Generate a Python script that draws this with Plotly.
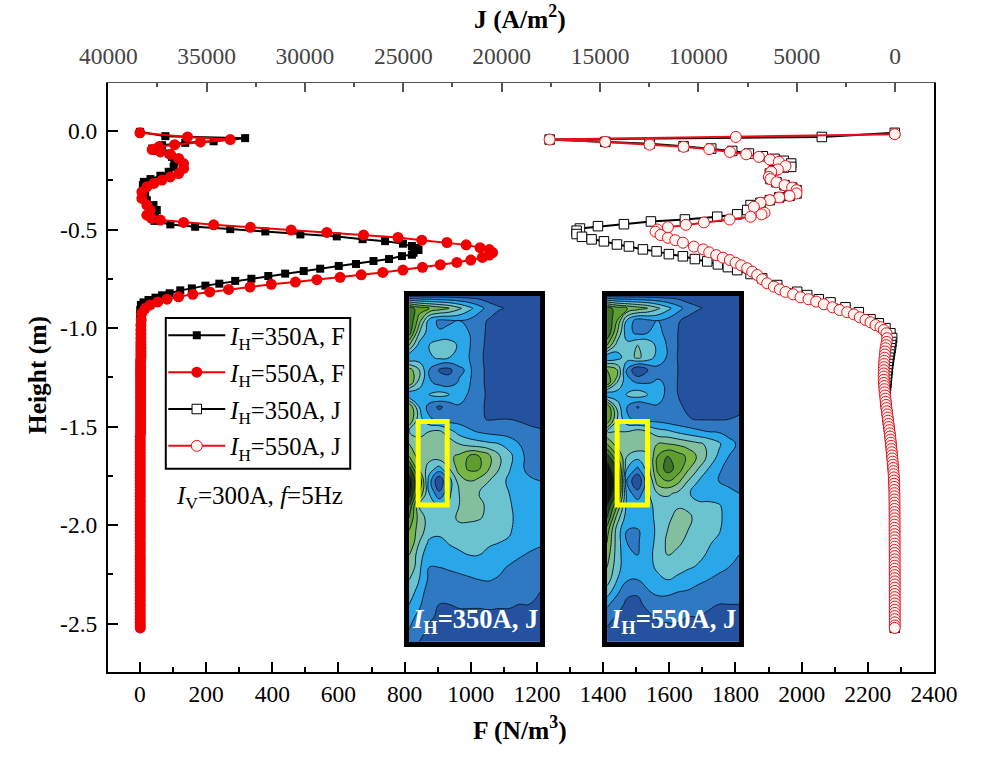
import plotly.graph_objects as go

FONT = "Liberation Serif"

# ---------- profile data ----------
tail_height = [
-1.070,-1.086,-1.102,-1.118,-1.134,-1.150,-1.166,-1.182,-1.198,-1.214,
-1.230,-1.246,-1.262,-1.278,-1.294,-1.310,-1.326,-1.342,-1.358,-1.374,
-1.390,-1.406,-1.422,-1.438,-1.454,-1.470,-1.486,-1.502,-1.518,-1.534,
-1.550,-1.566,-1.582,-1.598,-1.614,-1.630,-1.646,-1.662,-1.678,-1.694,
-1.710,-1.726,-1.742,-1.758,-1.774,-1.790,-1.806,-1.822,-1.838,-1.854,
-1.870,-1.886,-1.902,-1.918,-1.934,-1.950,-1.966,-1.982,-1.998,-2.014,
-2.030,-2.046,-2.062,-2.078,-2.094,-2.110,-2.126,-2.142,-2.158,-2.174,
-2.190,-2.206,-2.222,-2.238,-2.254,-2.270,-2.286,-2.302,-2.318,-2.334,
-2.350,-2.366,-2.382,-2.398,-2.414,-2.430,-2.446,-2.462,-2.478,-2.494,
-2.510,-2.522]

f_tail = [
3,3,3,3,3,3,2,2,2,2,
2,2,2,2,2,2,2,2,2,2,
2,2,2,2,2,2,2,2,2,2,
1,1,1,1,1,1,1,1,1,1,
1,1,1,1,1,1,1,1,1,1,
1,1,1,1,1,1,1,1,1,1,
1,1,1,1,1,1,1,1,1,1,
1,1,1,1,1,1,1,1,1,1,
1,1,1,1,1,1,1,1,1,1,
1,1]

j_tail = [
420,450,480,500,515,530,545,555,562,568,
572,575,572,565,550,538,524,508,490,472,
455,437,415,392,372,352,332,312,290,268,
250,232,215,198,182,167,152,138,124,110,
96,82,70,60,52,46,41,37,34,31,
29,27,26,25,24,23,22,22,21,21,
20,20,19,19,19,18,18,18,17,17,
17,16,16,16,15,15,15,15,14,14,
14,14,14,13,13,13,13,13,13,13,
13,13]
j350_tail_top = [180,200,225,250,275,300,325,345,365,380,395,410,425,440,455,470,485,495,495,490]

f350_h = [-0.003,-0.025,-0.035,-0.051,-0.059,-0.071,-0.088,-0.100,-0.113,-0.130,-0.155,-0.181,-0.206,-0.226,-0.243,-0.257,-0.274,-0.299,-0.324,-0.350,-0.375,-0.400,-0.426,-0.455,-0.473,-0.485,-0.497,-0.509,-0.524,-0.534,-0.548,-0.558,-0.571,-0.583,-0.593,-0.603,-0.617,-0.627,-0.634,-0.649,-0.659,-0.674,-0.684,-0.698,-0.710,-0.723,-0.735,-0.749,-0.760,-0.774,-0.784,-0.798,-0.808,-0.823,-0.833,-0.845,-0.857,-0.869,-0.882,-0.908,-0.930,-0.960,-0.990,-1.020,-1.050]
f350_v = [0,77,318,223,137,67,37,47,87,97,104,102,87,62,32,12,9,11,16,21,41,51,46,44,92,167,273,379,485,595,673,741,795,822,837,842,827,822,792,753,706,653,601,545,495,439,388,337,288,240,198,157,122,90,67,47,26,11,3,1,1,1,1,1,1]

f550_h = [-0.008,-0.029,-0.042,-0.054,-0.068,-0.079,-0.093,-0.105,-0.117,-0.138,-0.164,-0.189,-0.215,-0.232,-0.248,-0.265,-0.282,-0.308,-0.341,-0.375,-0.400,-0.426,-0.443,-0.451,-0.463,-0.475,-0.488,-0.502,-0.514,-0.527,-0.539,-0.553,-0.565,-0.577,-0.591,-0.601,-0.616,-0.629,-0.641,-0.654,-0.666,-0.678,-0.691,-0.705,-0.717,-0.729,-0.742,-0.754,-0.766,-0.777,-0.791,-0.803,-0.816,-0.828,-0.841,-0.853,-0.867,-0.882,-0.899,-0.924,-0.958,-0.985,-1.009,-1.030,-1.050]
f550_v = [0,144,273,183,105,57,37,62,92,117,132,132,117,92,67,42,21,6,6,21,31,21,36,62,132,223,334,457,565,676,780,852,928,986,1028,1056,1066,1056,1035,1000,958,908,854,795,734,669,605,535,470,397,333,268,211,160,117,82,54,31,16,6,4,3,3,3,3]

j350_h = [-0.008,-0.029,-0.042,-0.054,-0.063,-0.076,-0.088,-0.100,-0.113,-0.127,-0.140,-0.150,-0.164,-0.181,-0.184,-0.198,-0.215,-0.243,-0.259,-0.274,-0.286,-0.299,-0.316,-0.328,-0.336,-0.350,-0.363,-0.375,-0.400,-0.422,-0.434,-0.448,-0.458,-0.472,-0.482,-0.494,-0.505,-0.522,-0.536,-0.549,-0.559,-0.575,-0.585,-0.600,-0.610,-0.624,-0.635,-0.649,-0.661,-0.676,-0.690,-0.705,-0.725,-0.747,-0.781,-0.815,-0.832,-0.853,-0.869,-0.894,-0.919,-0.955,-0.975,-1.000,-1.026,-1.050]
j350_v = [11,3721,17561,14732,12479,10751,9345,8278,7431,6720,6127,5653,5280,5280,5653,6161,6364,6330,6025,5618,5229,5009,5009,5364,5889,6364,6838,7346,7516,8024,9040,10683,12411,13783,15105,16020,16189,16189,15918,15427,14800,14139,13529,12818,12123,11497,10785,10175,9548,9007,8498,8024,7346,6754,5990,4975,4466,3874,3281,2519,1841,1247,822,486,232,147]

j550_h = [-0.015,-0.029,-0.042,-0.054,-0.068,-0.079,-0.091,-0.105,-0.117,-0.130,-0.144,-0.155,-0.177,-0.194,-0.206,-0.232,-0.243,-0.259,-0.274,-0.286,-0.299,-0.316,-0.328,-0.336,-0.350,-0.363,-0.384,-0.414,-0.422,-0.434,-0.448,-0.463,-0.475,-0.487,-0.499,-0.510,-0.527,-0.541,-0.553,-0.566,-0.586,-0.600,-0.615,-0.629,-0.642,-0.654,-0.668,-0.681,-0.696,-0.713,-0.730,-0.752,-0.772,-0.789,-0.803,-0.816,-0.828,-0.843,-0.853,-0.865,-0.879,-0.894,-0.908,-0.919,-0.930,-0.945,-0.958,-0.970,-0.984,-0.995,-1.009,-1.026,-1.051]
j550_v = [11,8092,17561,14732,12479,10751,9447,8396,7567,6923,6364,5906,5568,5957,6296,6415,6330,6025,5618,5229,5009,5009,5364,5889,6364,6838,7177,6635,6787,7346,8414,9718,10633,11547,12090,12174,11920,11547,11175,10785,10226,9752,9447,9091,8752,8396,8108,7821,7516,7262,7007,6754,6500,6161,5856,5568,5179,4805,4399,4009,3620,3179,2823,2434,2095,1790,1502,1247,993,740,570,435,400]

series_names = ["<i>I</i><sub>H</sub>=350A, F", "<i>I</i><sub>H</sub>=550A, F",
                "<i>I</i><sub>H</sub>=350A, J", "<i>I</i><sub>H</sub>=550A, J"]

# ---------- inset contour fields ----------
inset1_x = [42,72,102,132,162,192,222,252,282,312,342,372,402,435]
inset2_x = [37,67,97,128,158,188,218,249,279,310,340,371,401,432]
inset_y = [33,70,107,144,181,218,255,292,329,366,403,440,477,514,551,588,625,662,699,736,773,810,847,884,921,958,995,1032,1070]

inset1_z = [
[1.6,1.5,1.5,1.5,1.5,1.5,1.5,1.5,1.4,1.4,1.4,1.4,1.4,1.4],
[8.5,7.5,7,6.5,6,5.2,4.3,3.4,2.5,2.1,1.9,1.5,1.3,1.3],
[9,6.5,3.6,2.8,2.9,3.0,2.8,2.3,1.9,1.5,1.4,1.3,1.3,1.3],
[8.5,5,3.4,3.1,3.2,3.3,3.0,2.3,1.8,1.4,1.3,1.3,1.3,1.3],
[6,3.6,4.0,4.6,4.6,3.8,3.1,2.2,1.8,1.4,1.3,1.3,1.3,1.3],
[3.0,3.4,3.8,4.2,4.0,3.5,3.0,2.2,1.7,1.4,1.3,1.3,1.3,1.3],
[6.5,5,3,1.9,1.7,2.8,3.2,2.3,1.7,1.4,1.3,1.3,1.3,1.3],
[7,4.5,3.2,2.6,2.5,3.1,3.1,2.2,1.8,1.4,1.3,1.3,1.3,1.3],
[3,3.5,4.0,4.4,4,3.4,2.9,2.3,1.8,1.5,1.3,1.3,1.3,1.3],
[7,4,2.6,1.8,2.4,2.9,2.5,2.1,1.9,1.5,1.4,1.3,1.3,1.3],
[7,4.4,3.2,2.7,2.5,2.6,2.4,2.1,1.95,2.0,2.0,1.9,1.8,1.7],
[5,4.6,5,5.2,4.4,3.6,3.2,2.9,2.7,2.6,2.5,2.4,2.2,2.1],
[6,5.5,6,6,5.6,5.0,4.6,4.4,4.2,4,3.6,3.0,2.4,2.3],
[7,5.5,5.4,5.6,5.8,6.2,7.1,7,6.2,5.1,4.3,3.4,2.6,2.4],
[9.5,6,4.5,3.6,5,6.4,7.2,7.1,6,5,4.1,3.3,2.7,2.5],
[10.5,8,3.5,1.0,3.5,5.5,6,5.6,5,4.4,3.8,3.4,3.2,3.0],
[10.5,7,4,2.2,3.8,5,5.2,5,4.6,4.2,4.0,3.6,3.3,3.1],
[9,5,4.3,4,4.2,5,5.3,5.2,4.8,4.3,4.1,3.7,3.4,3.3],
[8,5.5,4.6,4.4,4.6,5.2,5.2,5.1,4.7,4.2,4.2,3.7,3.5,3.4],
[7,5.5,4.5,4.4,4.5,4.6,4.6,4.4,4.2,4.1,4.1,3.7,3.4,3.3],
[7,5,3.8,3.6,4.1,4.3,4.3,4.2,4.1,4,3.9,3.5,3.3,3.1],
[6,4.5,3.2,3.2,3.4,3.8,4,4,3.8,3.6,3.4,3.1,2.9,2.8],
[6,4.2,3.0,3.0,3.1,3.2,3.3,3.4,3.3,3.2,2.9,2.7,2.5,2.2],
[5,4,2.8,2.6,2.7,2.8,2.9,3.0,3.05,2.9,2.7,2.5,2.3,2.1],
[4.5,3.6,2.4,2.1,2.2,2.4,2.5,2.6,2.6,2.6,2.4,2.3,2.2,2.0],
[4,3.2,2.2,2.0,2.0,2.1,2.1,2.1,2.15,2.1,2.1,2.0,2.0,1.9],
[3.4,2.7,2.1,1.9,1.8,1.8,1.8,1.8,1.8,1.8,1.8,1.8,1.8,1.8],
[3,2.3,1.9,1.7,1.6,1.6,1.6,1.6,1.6,1.6,1.6,1.6,1.6,1.6],
[2.5,2,1.7,1.5,1.4,1.4,1.4,1.4,1.4,1.4,1.4,1.4,1.4,1.4],
]

inset2_z = [
[1.6,1.5,1.5,1.5,1.5,1.5,1.5,1.5,1.4,1.4,1.4,1.4,1.4,1.4],
[8.5,7.5,7,6.5,6,5.2,4.3,3.4,2.5,2.1,1.8,1.4,1.3,1.3],
[9,7,3.8,2.5,2.8,3.0,2.7,2.1,1.7,1.4,1.3,1.3,1.3,1.3],
[9,6,3.3,2.8,3.0,3.2,2.8,2.0,1.6,1.3,1.3,1.3,1.3,1.3],
[7,4.5,4.4,5.0,4.8,3.7,2.9,2.0,1.6,1.3,1.3,1.3,1.3,1.3],
[3,3.6,4.5,5.2,4.6,3.6,2.9,1.95,1.5,1.3,1.3,1.3,1.3,1.3],
[7,6,2.8,1.0,1.9,2.7,2.9,2.0,1.5,1.3,1.3,1.3,1.3,1.3],
[8,5,3.3,2.9,2.9,3.1,2.9,1.95,1.6,1.3,1.3,1.3,1.3,1.3],
[3,3.5,4.1,4.6,4.0,3.4,2.8,2.0,1.7,1.4,1.3,1.3,1.3,1.3],
[8,4.5,3,1.9,2.6,2.9,2.6,2.1,1.9,1.6,1.5,1.5,1.5,1.6],
[8,5,3.2,2.7,2.6,2.6,2.4,2.2,2.05,1.95,1.95,1.95,2.0,2.2],
[5,5,5,5.4,5,4.4,4.2,3.8,3.5,3.2,3.0,2.9,2.8,2.7],
[7,5.5,5.5,5.8,5.8,6,6,5.8,5.5,5.2,4.8,4.2,3.2,2.9],
[9.5,7,5,4.4,4.7,7,8,7.5,6.8,5.8,4.8,3.8,3.0,2.4],
[10.5,9,4,2.8,4.4,7.2,8.5,7.6,6.2,5,4,3.2,2.6,2.1],
[11,9.5,2.8,1,3.6,6.5,7,6.3,5,4,3.2,3.0,2.8,2.4],
[11,9,3.5,2.4,3.8,5,5.2,4.8,4.2,3.3,3.4,3.4,3.2,3],
[10,7,3.6,3.6,3.8,4.2,4.4,4.9,4.8,4.4,4.3,4.1,3.6,3.2],
[9,5.5,3.4,3.5,3.7,4.2,4.8,5.3,5.2,4.7,4.4,4.2,3.6,3.3],
[7.5,4.5,3,2.9,3.5,4.2,5,5.2,5,4.6,4.3,4.1,3.5,3.2],
[7,4.5,3,2.9,3.5,4.3,5.2,5.2,4.7,4.3,4.1,3.8,3.3,3.1],
[6.5,4.5,3.2,3.0,3.6,4.4,5.0,4.7,4.4,4.2,3.9,3.5,3.2,3],
[6,4.4,3.3,3.05,3.6,4.2,4.4,4.3,4.1,3.9,3.5,3.2,3,2.8],
[5.5,4,3.1,3.0,3.3,3.7,4,3.8,3.5,3.2,3.0,2.8,2.6,2.5],
[4.5,3.2,2.2,2.1,2.9,3.2,3.2,3,2.9,2.7,2.5,2.4,2.3,2.2],
[3.2,2.4,1.8,1.8,2.2,2.5,2.5,2.4,2.3,2.2,2.1,2.0,2.0,2],
[2.4,1.9,1.6,1.6,1.8,2.1,2.1,2.1,2,2,1.9,1.9,1.8,1.8],
[1.9,1.7,1.6,1.5,1.5,1.8,1.9,1.9,1.8,1.7,1.7,1.7,1.7,1.7],
[1.5,1.5,1.4,1.4,1.4,1.5,1.8,1.8,1.7,1.6,1.6,1.5,1.5,1.5],
]

band_colors = ["#1b3a8a","#24529f","#2f78c2","#2aa7e8","#6cc3d0","#83bf9c","#79b545",
               "#5f9e2e","#3f7424","#243f16","#0c120a","#060806"]
n = len(band_colors)
scale = []
for i, c in enumerate(band_colors):
    scale += [[i/n, c], [(i+1)/n, c]]

# ---------- canvas geometry (the page's body margin is removed when written) ----------
W, H = 992, 759
LEFT, RIGHT, TOP, BOTTOM = 107.7, 934.0, 83.0, 672.3

def fx(px): return (px-LEFT)/(RIGHT-LEFT)
def fy(py): return (BOTTOM-py)/(BOTTOM-TOP)

fig = go.Figure()

def profile(x, y, name, color, symbol, size, xaxis, fill=None, lw=0):
    fig.add_trace(go.Scatter(
        x=x, y=y, name=name, xaxis=xaxis, yaxis="y", mode="lines+markers",
        legendgroup=name,
        line=dict(color=color, width=2),
        marker=dict(symbol=symbol, size=size, color=fill or color,
                    line=dict(color=color, width=lw)),
        hoverinfo="skip"))

profile(f350_v+f_tail, f350_h+tail_height, series_names[0], "#000000", "square", 8, "x")
profile(f550_v+f_tail, f550_h+tail_height, series_names[1], "#f00000", "circle", 11, "x")
profile(j350_v+j350_tail_top+j_tail[20:], j350_h+tail_height, series_names[2], "#000000", "square", 9.5, "x2", "#ffffff", 1)
profile(j550_v+j_tail, j550_h+tail_height, series_names[3], "#e8101c", "circle", 11, "x2", "#fff6f2", 1)

for xs, zs, xa, ya in [(inset1_x, inset1_z, "x3", "y3"), (inset2_x, inset2_z, "x4", "y4")]:
    fig.add_trace(go.Contour(
        x=xs, y=inset_y, z=zs, xaxis=xa, yaxis=ya, showscale=False, showlegend=False,
        colorscale=scale, zmin=0, zmax=n, autocontour=False,
        contours=dict(start=1, end=11, size=1, coloring="fill"),
        line=dict(color="#0a2238", width=1.0, smoothing=1.3),
        hoverinfo="skip"))

tick = dict(family=FONT, size=23.5, color="#000000")
axis_common = dict(showgrid=False, zeroline=False, ticks="inside", tickwidth=2, ticklen=10,
                   linecolor="#000000", linewidth=2, tickfont=tick, tickcolor="#000000", automargin=False)

def note(text, px, py, size, color="#000000", angle=0):
    return dict(text=text, xref="paper", yref="paper", x=fx(px), y=fy(py), textangle=angle,
                xanchor="center", yanchor="middle", showarrow=False,
                font=dict(family=FONT, size=size, color=color))

layout = dict(
    width=W, height=H, autosize=False,
    margin=dict(l=LEFT, r=W-RIGHT, t=TOP, b=H-BOTTOM, pad=0, autoexpand=False),
    paper_bgcolor="#ffffff", plot_bgcolor="#ffffff",
    font=dict(family=FONT, color="#000000"),
    showlegend=True,
    legend=dict(x=fx(163), y=fy(313), xanchor="left", yanchor="top",
                bgcolor="rgba(0,0,0,0)", borderwidth=0,
                font=dict(family=FONT, size=24.5, color="#000000"),
                itemwidth=57, entrywidth=116, entrywidthmode="pixels",
                traceorder="grouped", tracegroupgap=2, itemclick=False),
    xaxis=dict(axis_common, domain=[0, 1], range=[-96.4, 2400], anchor="y", side="bottom",
               tick0=0, dtick=200, minor=dict(dtick=100, ticks="inside", ticklen=5, tickwidth=2, tickcolor="#000000")),
    xaxis2=dict(axis_common, overlaying="x", side="top", anchor="y", range=[40015, -1982],
                tick0=0, dtick=5000, tickformat="d", linecolor="#555555", linewidth=1, tickcolor="#555555",
                ticklen=9, tickwidth=1.5, ticklabelstandoff=9,
                tickfont=dict(family=FONT, size=23.5, color="#444444"),
                minor=dict(dtick=2500, ticks="inside", ticklen=4, tickwidth=1.5, tickcolor="#555555")),
    yaxis=dict(axis_common, range=[-2.746, 0.245], anchor="x", mirror=True, ticklabelstandoff=4,
               tickvals=[0, -0.5, -1.0, -1.5, -2.0, -2.5],
               ticktext=["0.0", "-0.5", "-1.0", "-1.5", "-2.0", "-2.5"],
               minor=dict(tickvals=[-0.25, -0.75, -1.25, -1.75, -2.25], ticks="inside", ticklen=5, tickwidth=2, tickcolor="#000000")),
    annotations=[
        note("<b>J (A/m<sup>2</sup>)</b>", 520, 17, 25.5),
        note("<b>F (N/m<sup>3</sup>)</b>", 520, 729, 25.5),
        note("<b>Height (m)</b>", 38, 375, 25.5, angle=-90),
        note("<i>I</i><sub>V</sub>=300A, <i>f</i>=5Hz", 259, 498, 25),
        note("<b><i>I</i><sub>H</sub>=350A, J</b>", 475, 621, 26.5, "#ffffff"),
        note("<b><i>I</i><sub>H</sub>=550A, J</b>", 673, 621, 26.5, "#ffffff"),
    ],
)

inset_axis = dict(showgrid=False, zeroline=False, showticklabels=False, ticks="", mirror=True,
                  linecolor="#000000", linewidth=5)
layout["xaxis3"] = dict(inset_axis, domain=[fx(409), fx(540)], range=[42, 435], anchor="y3")
layout["yaxis3"] = dict(inset_axis, domain=[fy(642), fy(296)], range=[1070, 33], anchor="x3")
layout["xaxis4"] = dict(inset_axis, domain=[fx(607), fx(739)], range=[37, 432], anchor="y4")
layout["yaxis4"] = dict(inset_axis, domain=[fy(642), fy(296)], range=[1070, 33], anchor="x4")

box = dict(type="rect", line=dict(color="#ffff00", width=5), fillcolor="rgba(0,0,0,0)", layer="above")
layout["shapes"] = [
    dict(box, xref="x3", yref="y3", x0=69, x1=156, y0=410, y1=660),
    dict(box, xref="x4", yref="y4", x0=67, x1=158, y0=410, y1=660),
    dict(type="rect", xref="paper", yref="paper", x0=fx(165.5), x1=fx(350), y0=fy(469), y1=fy(318),
         line=dict(color="#000000", width=2), fillcolor="#ffffff", layer="above"),
]
fig.update_layout(**layout)
fig.write_html("out.html", config={"displayModeBar": False},
               post_script="document.body.style.margin='0';document.documentElement.style.overflow='hidden';")
